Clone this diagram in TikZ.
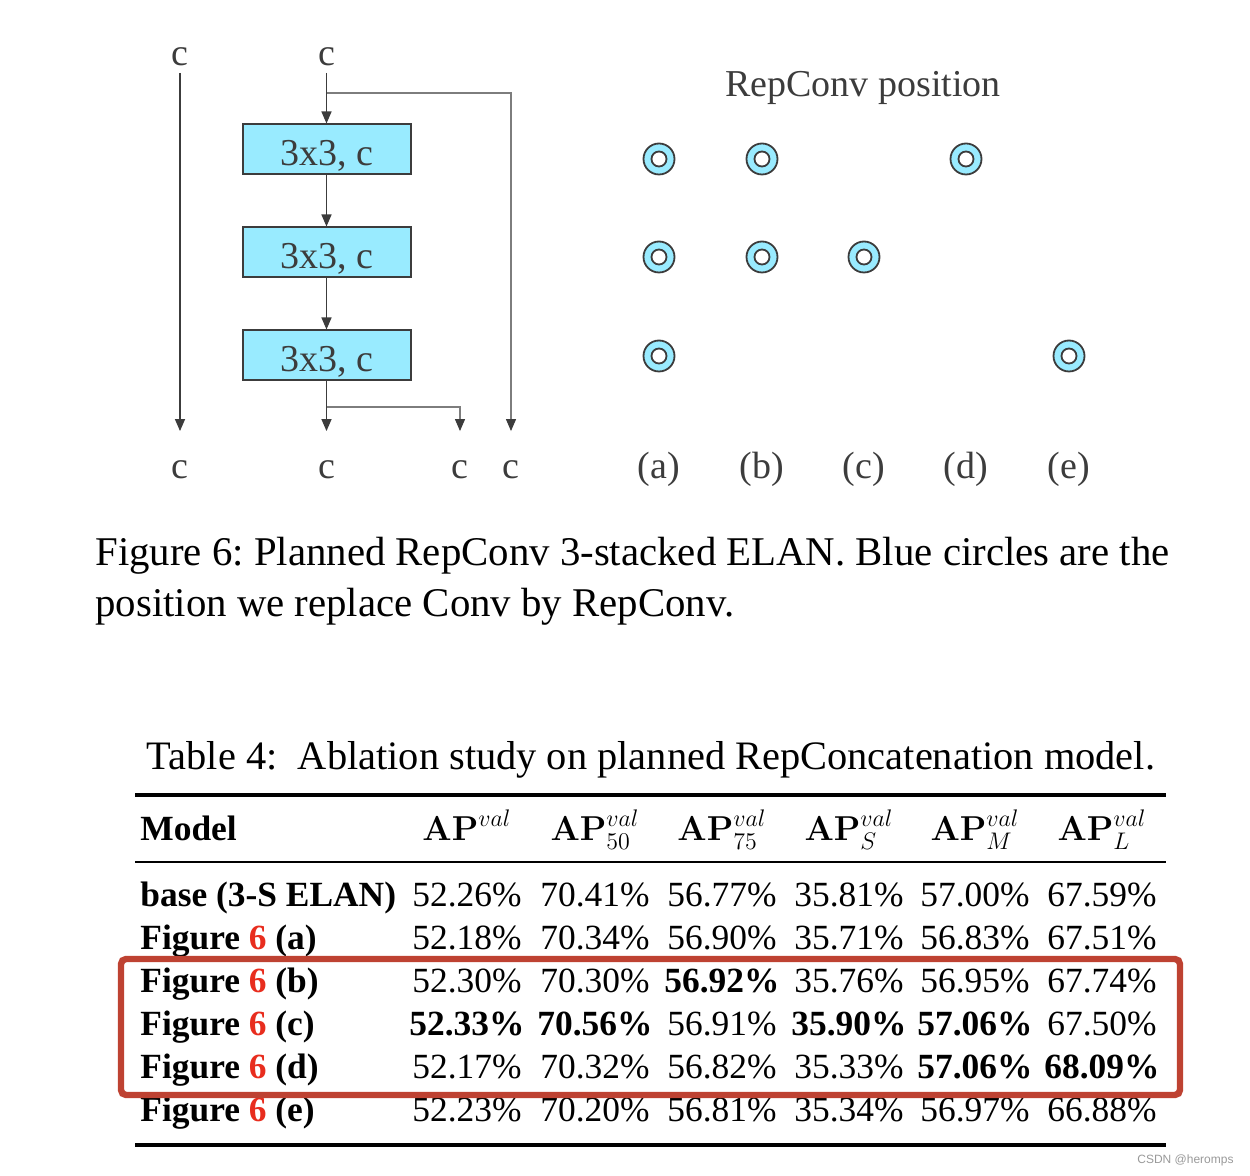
\documentclass[tikz,border=0pt]{standalone}
\usepackage[no-math]{fontspec}
\setmainfont{Liberation Serif}
\newfontfamily\wmfont{Liberation Sans}
\usepackage{amsmath}
\usetikzlibrary{arrows.meta,positioning}
\definecolor{boxcyan}{RGB}{153,235,255}
\definecolor{lngray}{RGB}{60,60,60}
\definecolor{brgray}{RGB}{125,125,125}
\definecolor{refred}{RGB}{232,45,30}
\definecolor{hlred}{RGB}{190,66,50}
\frenchspacing
\tikzset{
  flow/.style={-{Triangle[length=6pt,width=5pt]}, lngray, line width=0.7pt},
  branch/.style={-{Triangle[length=6pt,width=5pt,color=lngray]}, brgray, line width=0.6pt},
  conv/.style={draw=lngray, fill=boxcyan, line width=1pt, minimum width=84pt,
               minimum height=25pt, inner sep=0pt, text height=16.5pt, text depth=0pt,
               text=lngray, font=\fontsize{19}{22}\selectfont},
  chan/.style={inner sep=0pt, text=lngray, font=\fontsize{19}{22}\selectfont},
  rpos/.style={circle, draw=lngray, fill=boxcyan, line width=0.9pt, minimum size=15.5pt,
               inner sep=0pt, path picture={\draw[lngray, line width=0.9pt, fill=white]
               (path picture bounding box.center) circle (3.75pt);}},
  capt/.style={anchor=base west, inner sep=0pt, font=\fontsize{20.4}{24}\selectfont},
  tabcell/.style={anchor=base, inner sep=0pt, font=\fontsize{17.7}{21}\selectfont},
  tabname/.style={anchor=base west, inner sep=0pt, font=\fontsize{17.7}{21}\selectfont\bfseries},
  heavyrule/.style={line width=2pt},
  lightrule/.style={line width=1.2pt},
  hlbox/.style={draw=hlred, line width=3.2pt, rounded corners=2.5pt},
}

\begin{document}
\begin{tikzpicture}[x=0.5pt, y=-0.5pt]
  \useasboundingbox (0,0) rectangle (1250,1176);

  % 3-stacked ELAN block
  \node[chan] (cin1) at (180,57) {c};
  \node[chan] (cin2) at (326.5,57) {c};
  \node[conv] (conv1) at (326.5,149.5) {3x3, c};
  \node[conv] (conv2) at (326.5,252.5) {3x3, c};
  \node[conv] (conv3) at (326.5,355.5) {3x3, c};
  \node[chan] (cout1) at (180,470) {c};
  \node[chan] (cout2) at (326.5,470) {c};
  \node[chan] (cout3) at (460,470) {c};
  \node[chan] (cout4) at (511,470) {c};
  \coordinate (split1) at (326.5,93);
  \coordinate (split2) at (326.5,407);
  \draw[flow, shorten <=3.2pt, shorten >=14.7pt] (cin1) -- (cout1);
  \draw[flow, shorten <=3.2pt] (cin2) -- (conv1);
  \draw[flow] (conv1) -- (conv2);
  \draw[flow] (conv2) -- (conv3);
  \draw[flow, shorten >=14.7pt] (conv3) -- (cout2);
  \draw[branch, shorten >=14.7pt] (split1) -| (cout4);
  \draw[branch, shorten >=14.7pt] (split2) -| (cout3);

  % RepConv positions
  \node[chan, anchor=base] (postitle) at (863,97) {RepConv position};
  \foreach \lab/\x in {a/659,b/762,c/864,d/966,e/1069}
    \node[chan] (lab\lab) at (\x,469) {(\lab)};
  \foreach \x/\y [count=\i] in {659/159,659/257,659/356,762/159,762/257,864/257,966/159,1069/356}
    \node[rpos] (rp\i) at (\x,\y) {};

  % captions
  \node[capt] (figcap1) at (95,566) {Figure 6: Planned RepConv 3-stacked ELAN. Blue circles are the};
  \node[capt] (figcap2) at (95,617) {position we replace Conv by RepConv.};
  \node[capt, anchor=base, font=\fontsize{20.2}{24}\selectfont] (tabcap) at (651,770) {Table 4:\ \ Ablation study on planned RepConcatenation model.};

  % table
  \draw[heavyrule] (135,795) -- (1166,795);
  \draw[lightrule] (135,862) -- (1166,862);
  \draw[heavyrule] (135,1145) -- (1166,1145);
  \node[tabname] (hmodel) at (140,841) {Model};
  \node[tabcell] (hap) at (467,841) {$\mathbf{AP}^{val}$};
  \node[tabcell] (hap50) at (595,841) {$\mathbf{AP}^{val}_{50}$};
  \node[tabcell] (hap75) at (722,841) {$\mathbf{AP}^{val}_{75}$};
  \node[tabcell] (haps) at (849,841) {$\mathbf{AP}^{val}_{S}$};
  \node[tabcell] (hapm) at (975,841) {$\mathbf{AP}^{val}_{M}$};
  \node[tabcell] (hapl) at (1102,841) {$\mathbf{AP}^{val}_{L}$};
  \foreach \mdl/\va/\vb/\vc/\vd/\ve/\vf [count=\r] in {
      {base (3-S ELAN)}/52.26\%/70.41\%/56.77\%/35.81\%/57.00\%/67.59\%,
      {Figure {\color{refred}6} (a)}/52.18\%/70.34\%/56.90\%/35.71\%/56.83\%/67.51\%,
      {Figure {\color{refred}6} (b)}/52.30\%/70.30\%/{\bfseries 56.92\%}/35.76\%/56.95\%/67.74\%,
      {Figure {\color{refred}6} (c)}/{\bfseries 52.33\%}/{\bfseries 70.56\%}/56.91\%/{\bfseries 35.90\%}/{\bfseries 57.06\%}/67.50\%,
      {Figure {\color{refred}6} (d)}/52.17\%/70.32\%/56.82\%/35.33\%/{\bfseries 57.06\%}/{\bfseries 68.09\%},
      {Figure {\color{refred}6} (e)}/52.23\%/70.20\%/56.81\%/35.34\%/56.97\%/66.88\%}
  {
    \node[tabname] (m\r) at (140,{907+43*(\r-1)}) {\mdl};
    \node[tabcell] (v\r a) at (467,{907+43*(\r-1)}) {\va};
    \node[tabcell] (v\r b) at (595,{907+43*(\r-1)}) {\vb};
    \node[tabcell] (v\r c) at (722,{907+43*(\r-1)}) {\vc};
    \node[tabcell] (v\r d) at (849,{907+43*(\r-1)}) {\vd};
    \node[tabcell] (v\r e) at (975,{907+43*(\r-1)}) {\ve};
    \node[tabcell] (v\r f) at (1102,{907+43*(\r-1)}) {\vf};
  }
  \draw[hlbox] (121,959) rectangle (1180,1095);

  \node[anchor=east, inner sep=0pt, text=black!40, font=\wmfont\fontsize{6}{7}\selectfont] (wmark) at (1234,1160) {CSDN @heromps};
\end{tikzpicture}
\end{document}
